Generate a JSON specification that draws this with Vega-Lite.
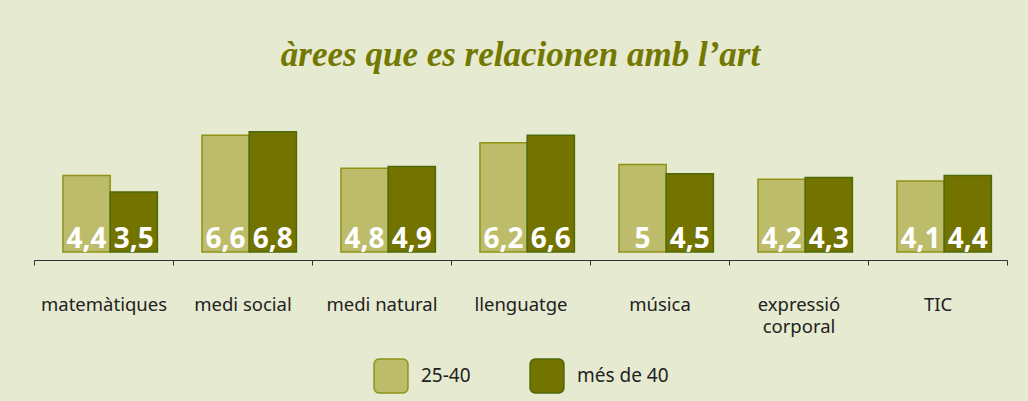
{
  "$schema": "https://vega.github.io/schema/vega-lite/v6.json",
  "width": 973,
  "height": 124,
  "autosize": {"type": "none"},
  "padding": {"left": 34, "top": 128, "right": 21, "bottom": 149},
  "background": "#e6ead0",
  "config": {
    "view": {"stroke": null},
    "locale": {"number": {"decimal": ",", "thousands": ".", "grouping": [3], "currency": ["", " €"]}}
  },
  "title": {
    "text": "àrees que es relacionen amb l’art",
    "font": "Liberation Serif",
    "fontStyle": "italic",
    "fontWeight": "bold",
    "fontSize": 35,
    "color": "#737800",
    "anchor": "middle",
    "baseline": "alphabetic",
    "offset": 27
  },
  "data": {
    "values": [
      {"area": "matemàtiques", "grup": "25-40", "valor": 4.4},
      {"area": "matemàtiques", "grup": "més de 40", "valor": 3.5},
      {"area": "medi social", "grup": "25-40", "valor": 6.6},
      {"area": "medi social", "grup": "més de 40", "valor": 6.8},
      {"area": "medi natural", "grup": "25-40", "valor": 4.8},
      {"area": "medi natural", "grup": "més de 40", "valor": 4.9},
      {"area": "llenguatge", "grup": "25-40", "valor": 6.2},
      {"area": "llenguatge", "grup": "més de 40", "valor": 6.6},
      {"area": "música", "grup": "25-40", "valor": 5},
      {"area": "música", "grup": "més de 40", "valor": 4.5},
      {"area": "expressió corporal", "grup": "25-40", "valor": 4.2},
      {"area": "expressió corporal", "grup": "més de 40", "valor": 4.3},
      {"area": "TIC", "grup": "25-40", "valor": 4.1},
      {"area": "TIC", "grup": "més de 40", "valor": 4.4}
    ]
  },
  "encoding": {
    "x": {
      "field": "area",
      "type": "nominal",
      "sort": null,
      "scale": {"paddingInner": 0, "paddingOuter": 0},
      "axis": {
        "title": null,
        "offset": 8,
        "domainColor": "#333333",
        "domainWidth": 1,
        "tickColor": "#333333",
        "tickSize": 5,
        "tickBand": "extent",
        "labelAngle": 0,
        "labelFont": "Noto Sans",
        "labelFontSize": 18.5,
        "labelColor": "#222222",
        "labelPadding": 30,
        "labelBaseline": "top",
        "labelLineHeight": 22,
        "labelLimit": 200,
        "labelExpr": "datum.label == 'expressió corporal' ? ['expressió', 'corporal'] : datum.label"
      }
    },
    "xOffset": {
      "field": "grup",
      "type": "nominal",
      "scale": {"paddingInner": 0, "paddingOuter": 0.472, "align": 0.65}
    }
  },
  "layer": [
    {
      "mark": {"type": "bar", "strokeWidth": 1.5},
      "encoding": {
        "y": {
          "field": "valor",
          "type": "quantitative",
          "scale": {"domain": [0.22, 7], "zero": false, "nice": false},
          "axis": null
        },
        "y2": {"datum": 0.22},
        "fill": {
          "field": "grup",
          "type": "nominal",
          "scale": {"domain": ["25-40", "més de 40"], "range": ["#bdbc6b", "#737400"]},
          "legend": {
            "title": null,
            "orient": "none",
            "direction": "horizontal",
            "legendX": 339,
            "legendY": 230,
            "symbolType": "M -0.7,-1 L 0.7,-1 A 0.3,0.3 0 0 1 1,-0.7 L 1,0.7 A 0.3,0.3 0 0 1 0.7,1 L -0.7,1 A 0.3,0.3 0 0 1 -1,0.7 L -1,-0.7 A 0.3,0.3 0 0 1 -0.7,-1 Z",
            "symbolSize": 1150,
            "symbolStrokeWidth": 1.5,
            "symbolOpacity": 1,
            "labelFont": "Noto Sans",
            "labelFontSize": 19,
            "labelColor": "#222222",
            "labelOffset": 12,
            "columnPadding": 56,
            "padding": 0
          }
        },
        "stroke": {
          "field": "grup",
          "type": "nominal",
          "scale": {"domain": ["25-40", "més de 40"], "range": ["#8e9318", "#4e6a08"]}
        }
      }
    },
    {
      "mark": {
        "type": "text",
        "font": "Noto Sans",
        "fontWeight": "bold",
        "fontSize": 28,
        "color": "#ffffff",
        "align": "center",
        "baseline": "alphabetic",
        "dy": -4
      },
      "encoding": {
        "y": {"datum": 0.22, "type": "quantitative"},
        "text": {"field": "valor", "type": "quantitative", "format": "~g"}
      }
    }
  ]
}
